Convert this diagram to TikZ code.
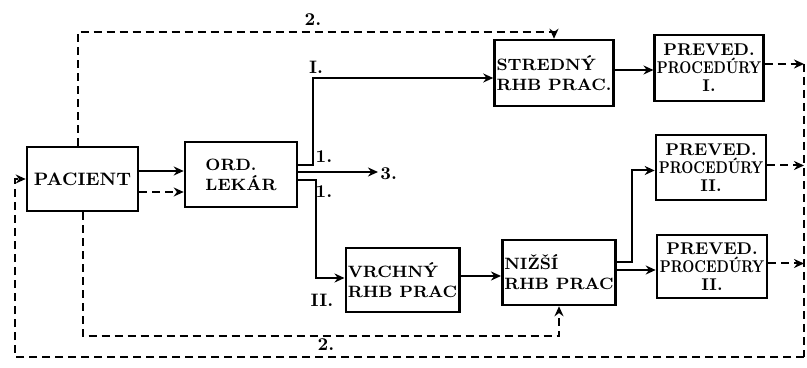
\documentclass[tikz,border=0pt]{standalone}
\usepackage{graphicx}
\usepackage{tikz}
\usetikzlibrary{arrows.meta,positioning,calc}
\tikzset{
  rhbbox/.style={
    rectangle, draw=black, line width=1.3pt, fill=white,
    minimum width=55pt, minimum height=32.5pt,
    font=\fontsize{8.2}{10}\selectfont\bfseries, align=left,
    inner sep=1pt
  },
  prevbox/.style={
    rhbbox, align=center, font=\fontsize{8.5}{9}\selectfont\bfseries
  },
  flowarrow/.style={
    -{Stealth[length=5pt, width=4.5pt]}, line width=1pt
  },
  backarrow/.style={
    -{Stealth[length=5pt, width=4.5pt]}, line width=1pt,
    dash pattern=on 4pt off 2.5pt
  },
  backline/.style={
    line width=1pt, dash pattern=on 4pt off 2.5pt
  },
  labelnode/.style={
    font=\fontsize{9}{10}\selectfont\bfseries, inner sep=1pt
  },
}
\newcommand{\procrow}{\scalebox{0.8}[1]{PROCEDÚRY}}

\begin{document}
\begin{tikzpicture}[x=0.5pt, y=-0.5pt]

\useasboundingbox (0,0) rectangle (807,368);

% Boxes
\node[rhbbox, align=center, font=\fontsize{9}{10}\selectfont\bfseries, minimum width=55.5pt, minimum height=32pt] (pacient) at (82.5,179) {PACIENT};
\node[rhbbox, minimum width=56pt] (lekar) at (241,174.5) {ORD.\\LEKÁR};
\node[rhbbox, minimum width=54pt, minimum height=33pt] (stredny) at (554,73) {STREDNÝ\\RHB PRAC.};
\node[rhbbox, minimum width=54.5pt, minimum height=32pt] (vrchny) at (402.5,280) {VRCHNÝ\\RHB PRAC};
\node[rhbbox, minimum width=54pt] (nizsi) at (559,272.5) {NIŽŠÍ\\RHB PRAC};

\node[prevbox, minimum width=54pt, minimum height=33pt] (prev1) at (709,68) {PREVED.\\\procrow\\I.};
\node[prevbox, minimum width=55pt] (prev2) at (711,167.5) {PREVED.\\\procrow\\II.};
\node[prevbox, minimum width=55pt, minimum height=31.5pt] (prev3) at (712,266.5) {PREVED.\\\procrow\\II.};

% Labels
\node[labelnode] (lab2top) at (313,20) {2.};
\node[labelnode] (labI) at (316,67) {I.};
\node[labelnode] (lab1a) at (324,157) {1.};
\node[labelnode, anchor=west] (out3) at (378,174) {3.};
\node[labelnode] (lab1b) at (324,192) {1.};
\node[labelnode] (labII) at (322,300) {II.};
\node[labelnode] (lab2bot) at (326,345) {2.};

% Solid flow
\draw[flowarrow] ([yshift=4pt]pacient.east) -- ([yshift=4pt]pacient.east -| lekar.west);
\draw[flowarrow] ([yshift=4.5pt]lekar.east) -- ++(15,0) |- ([yshift=-2.5pt]stredny.west);
\draw[flowarrow] ([yshift=1.25pt]lekar.east) -- ([yshift=1.25pt]lekar.east -| out3.west);
\draw[flowarrow] ([yshift=-3pt]lekar.east) -- ++(18,0) |- ([yshift=1pt]vrchny.west);
\draw[flowarrow] ([yshift=2pt]vrchny.east) -- ([yshift=2pt]vrchny.east -| nizsi.west);
\draw[flowarrow] ([yshift=1.5pt]stredny.east) -- ([yshift=1.5pt]stredny.east -| prev1.west);
\draw[flowarrow] ([yshift=5pt]nizsi.east) -- ++(15,0) |- ([yshift=-1.5pt]prev2.west);
\draw[flowarrow] ([yshift=1.25pt]nizsi.east) -- ([yshift=1.25pt]nizsi.east -| prev3.west);

% Dashed feedback
\coordinate (rtop) at (804,64);
\coordinate (rbot) at (804,357);
\coordinate (lbot) at (15,357);
\draw[backarrow] ([yshift=-6.5pt]pacient.east) -- ([yshift=-6.5pt]pacient.east -| lekar.west);
\draw[backarrow] ([xshift=-2.5pt]pacient.north) |- ([yshift=3.5pt]stredny.north) -- (stredny.north);
\draw[backarrow] (pacient.south) |- ([yshift=-15pt]nizsi.south) -- (nizsi.south);
\draw[backarrow] ([yshift=2pt]prev1.east) -- ([yshift=2pt]prev1.east -| rtop);
\draw[backarrow] ([yshift=1pt]prev2.east) -- ([yshift=1pt]prev2.east -| rtop);
\draw[backarrow] ([yshift=1.5pt]prev3.east) -- ([yshift=1.5pt]prev3.east -| rtop);
\draw[backline] (rtop) -- (rbot);
\draw[backarrow] (rbot) -- (lbot) |- (pacient.west);

\end{tikzpicture}
\end{document}
